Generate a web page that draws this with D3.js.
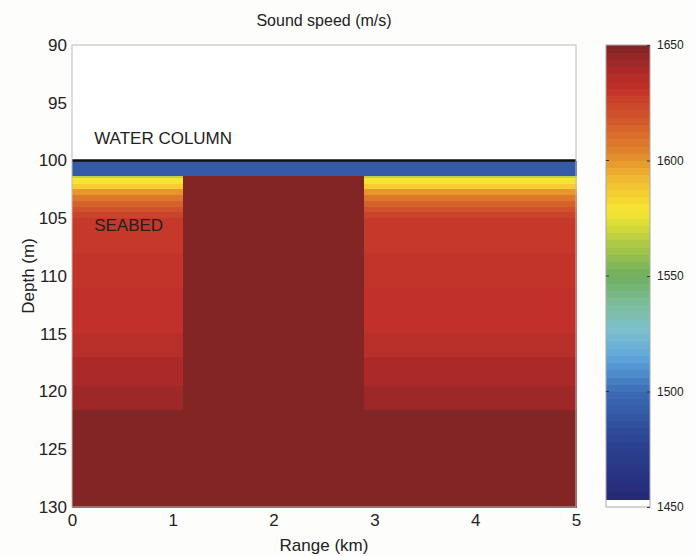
<!DOCTYPE html>
<html>
<head>
<meta charset="utf-8">
<script src="https://cdn.jsdelivr.net/npm/d3@7"></script>
<style>
  body { margin: 0; background: #fdfdfb; }
  text { font-family: "Liberation Sans", Arial, sans-serif; fill: #222; }
</style>
</head>
<body>
<div id="chart"></div>
<script>
// Chart size
var width = 696,
    height = 556;

// Range columns (km): left seabed, raised block, right seabed
var columnStart = [0, 1.1, 2.9];
var columnEnd = [1.1, 2.9, 5];
var columnKind = ["side", "block", "side"];

// Layer tops (m) and sound speed (m/s)
var layerTop = [100, 101.35, 101.5, 102, 102.5, 103, 103.5, 104, 104.5, 105, 108, 111, 115, 117, 119.5, 121.6];
var layerBottom = [101.35, 101.5, 102, 102.5, 103, 103.5, 104, 104.5, 105, 108, 111, 115, 117, 119.5, 121.6, 130];
var sideSpeed = [1490, 1568, 1579, 1586, 1600, 1608, 1615, 1620, 1625, 1629, 1631, 1632, 1635, 1639, 1643, 1649];
var blockSpeed = [1490, 1649, 1649, 1649, 1649, 1649, 1649, 1649, 1649, 1649, 1649, 1649, 1649, 1649, 1649, 1649];

// Ticks
var rangeTicks = [0, 1, 2, 3, 4, 5];
var depthTicks = [90, 95, 100, 105, 110, 115, 120, 125, 130];
var speedTicks = [1450, 1500, 1550, 1600, 1650];

// Colour map stops
var cmapValues = [1450, 1460, 1480, 1500, 1515, 1527, 1537, 1550, 1565, 1578, 1590, 1605, 1620, 1632, 1642, 1650];
var cmapColors = ["#262470", "#28307f", "#2c4594", "#3b6cb6", "#5fa7dc", "#7dc0cc", "#7cbf9e", "#6faf5f",
                  "#b2cc42", "#f8e632", "#f3c132", "#e0802b", "#d0512b", "#c1302a", "#a22828", "#7f2424"];

var margin = {top: 45, left: 72, right: 120, bottom: 49};
var plotW = 576 - margin.left,
    plotH = 507 - margin.top;

var color = d3.scaleLinear().domain(cmapValues).range(cmapColors).clamp(true);

var x = d3.scaleLinear().domain([0, 5]).range([margin.left, margin.left + plotW]);
var y = d3.scaleLinear().domain([90, 130]).range([margin.top, margin.top + plotH]);

var svg = d3.select("#chart").append("svg")
    .attr("width", width)
    .attr("height", height);

svg.append("rect")
    .attr("width", width).attr("height", height)
    .attr("fill", "#fdfdfb");

// water column (no data = white)
svg.append("rect")
    .attr("x", x(0)).attr("y", y(90))
    .attr("width", x(5) - x(0)).attr("height", y(100) - y(90))
    .attr("fill", "#ffffff");

// field cells
var cells = [];
columnStart.forEach(function(c0, ci) {
  layerTop.forEach(function(t, li) {
    cells.push({
      x0: c0, x1: columnEnd[ci],
      y0: t, y1: layerBottom[li],
      v: columnKind[ci] == "side" ? sideSpeed[li] : blockSpeed[li]
    });
  });
});

svg.append("g").selectAll("rect")
    .data(cells)
    .enter()
    .append("rect")
    .attr("x", function(d) { return x(d.x0); })
    .attr("y", function(d) { return y(d.y0); })
    .attr("width", function(d) { return x(d.x1) - x(d.x0) + 0.5; })
    .attr("height", function(d) { return y(d.y1) - y(d.y0) + 0.5; })
    .attr("fill", function(d) { return color(d.v); })
    .attr("shape-rendering", "crispEdges");

// seafloor line
svg.append("line")
    .attr("x1", x(0)).attr("x2", x(5))
    .attr("y1", y(100)).attr("y2", y(100))
    .attr("stroke", "#111").attr("stroke-width", 2.5);

// frame
svg.append("rect")
    .attr("x", x(0)).attr("y", y(90))
    .attr("width", plotW).attr("height", plotH)
    .attr("fill", "none").attr("stroke", "#bbb").attr("stroke-width", 1);

// axes
var xAxis = svg.append("g")
    .attr("transform", "translate(0," + (margin.top + plotH) + ")")
    .call(d3.axisBottom(x).tickValues(rangeTicks).tickFormat(d3.format("d")).tickSize(0).tickPadding(7));
var yAxis = svg.append("g")
    .attr("transform", "translate(" + margin.left + ",0)")
    .call(d3.axisLeft(y).tickValues(depthTicks).tickFormat(d3.format("d")).tickSize(0).tickPadding(5));
[xAxis, yAxis].forEach(function(a) {
  a.select(".domain").remove();
  a.selectAll("text").style("font-size", "17px").attr("fill", "#222");
});

// labels
svg.append("text")
    .attr("x", x(2.5)).attr("y", 551)
    .attr("text-anchor", "middle").style("font-size", "17px")
    .text("Range (km)");
svg.append("text")
    .attr("transform", "translate(34," + (margin.top + plotH / 2) + ")rotate(-90)")
    .attr("text-anchor", "middle").style("font-size", "17px")
    .text("Depth (m)");
svg.append("text")
    .attr("x", x(2.5)).attr("y", 26)
    .attr("text-anchor", "middle").style("font-size", "16px")
    .text("Sound speed (m/s)");
svg.append("text")
    .attr("x", x(0.22)).attr("y", y(98.6))
    .style("font-size", "17px")
    .text("WATER COLUMN");
svg.append("text")
    .attr("x", x(0.22)).attr("y", y(106.1))
    .style("font-size", "17px").attr("fill", "#3a1510")
    .text("SEABED");

// colour bar
var cbX = 606, cbW = 44;
var cbY = d3.scaleLinear().domain([1450, 1650]).range([margin.top + plotH, margin.top]);
var nBands = 64;
var bands = d3.range(nBands).map(function(i) {
  return 1450 + i * 200 / nBands;
});
svg.append("g").selectAll("rect")
    .data(bands)
    .enter()
    .append("rect")
    .attr("x", cbX)
    .attr("y", function(d) { return cbY(d + 200 / nBands); })
    .attr("width", cbW)
    .attr("height", cbY(1450) - cbY(1450 + 200 / nBands) + 0.5)
    .attr("fill", function(d, i) { return i == 0 ? "#ffffff" : color(d + 100 / nBands); })
    .attr("shape-rendering", "crispEdges");
svg.append("rect")
    .attr("x", cbX).attr("y", cbY(1650))
    .attr("width", cbW).attr("height", cbY(1450) - cbY(1650))
    .attr("fill", "none").attr("stroke", "#aaa");

// small ticks on the left edge of the bar
svg.append("g").selectAll("line")
    .data(speedTicks.slice(1, -1))
    .enter()
    .append("line")
    .attr("x1", cbX).attr("x2", cbX + 3)
    .attr("y1", function(d) { return cbY(d); })
    .attr("y2", function(d) { return cbY(d); })
    .attr("stroke", "#333");

var cbAxis = svg.append("g")
    .attr("transform", "translate(" + (cbX + cbW) + ",0)")
    .call(d3.axisRight(cbY).tickValues(speedTicks).tickFormat(d3.format("d")).tickSize(-3).tickPadding(7));
cbAxis.select(".domain").remove();
cbAxis.selectAll("line").attr("stroke", "#333");
cbAxis.selectAll("text").style("font-size", "12px").attr("fill", "#222");
</script>
</body>
</html>
